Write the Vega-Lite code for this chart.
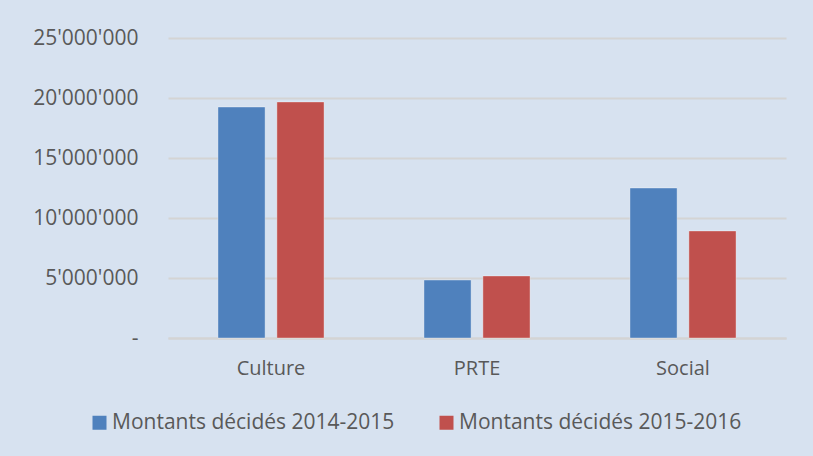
{
  "$schema": "https://vega.github.io/schema/vega-lite/v6.json",
  "width": 618,
  "height": 300,
  "autosize": {"type": "none"},
  "padding": {"top": 38, "left": 168, "right": 27, "bottom": 118},
  "background": "#D7E2F0",
  "data": {
    "values": [
      {"categorie": "Culture", "serie": "Montants décidés 2014-2015", "montant": 19250000},
      {"categorie": "Culture", "serie": "Montants décidés 2015-2016", "montant": 19670000},
      {"categorie": "PRTE", "serie": "Montants décidés 2014-2015", "montant": 4830000},
      {"categorie": "PRTE", "serie": "Montants décidés 2015-2016", "montant": 5170000},
      {"categorie": "Social", "serie": "Montants décidés 2014-2015", "montant": 12500000},
      {"categorie": "Social", "serie": "Montants décidés 2015-2016", "montant": 8920000}
    ]
  },
  "mark": {"type": "bar", "stroke": "#ffffff", "strokeOpacity": 0.35, "strokeWidth": 1},
  "encoding": {
    "x": {
      "field": "categorie",
      "type": "nominal",
      "sort": ["Culture", "PRTE", "Social"],
      "scale": {"paddingInner": 0.485, "paddingOuter": 0.2425},
      "axis": {
        "title": null,
        "labelAngle": 0,
        "labelFont": "Open Sans",
        "labelFontSize": 20,
        "labelColor": "#595959",
        "labelPadding": 20,
        "ticks": false,
        "domainColor": "#D4D4D4",
        "domainWidth": 2
      }
    },
    "xOffset": {
      "field": "serie",
      "type": "nominal",
      "scale": {"paddingInner": 0.2, "paddingOuter": 0}
    },
    "y": {
      "field": "montant",
      "type": "quantitative",
      "scale": {"domain": [0, 25000000], "nice": false},
      "axis": {
        "title": null,
        "values": [0, 5000000, 10000000, 15000000, 20000000, 25000000],
        "labelExpr": "datum.value == 0 ? '-\u2007' : replace(format(datum.value, ','), /,/g, \"'\")",
        "labelFont": "Open Sans",
        "labelFontSize": 21,
        "labelColor": "#595959",
        "labelPadding": 30,
        "ticks": false,
        "domain": false,
        "gridColor": "#D4D4D4",
        "gridWidth": 2
      }
    },
    "color": {
      "field": "serie",
      "type": "nominal",
      "scale": {"range": ["#4F81BD", "#C0504D"]},
      "legend": {
        "title": null,
        "orient": "none",
        "legendX": -79,
        "legendY": 374,
        "direction": "horizontal",
        "symbolType": "square",
        "symbolSize": 196,
        "symbolStrokeWidth": 0,
        "labelFont": "Open Sans",
        "labelFontSize": 21,
        "labelColor": "#595959",
        "labelLimit": 0,
        "columnPadding": 41,
        "symbolOffset": 0,
        "labelOffset": 2
      }
    }
  },
  "config": {"view": {"stroke": null}}
}
